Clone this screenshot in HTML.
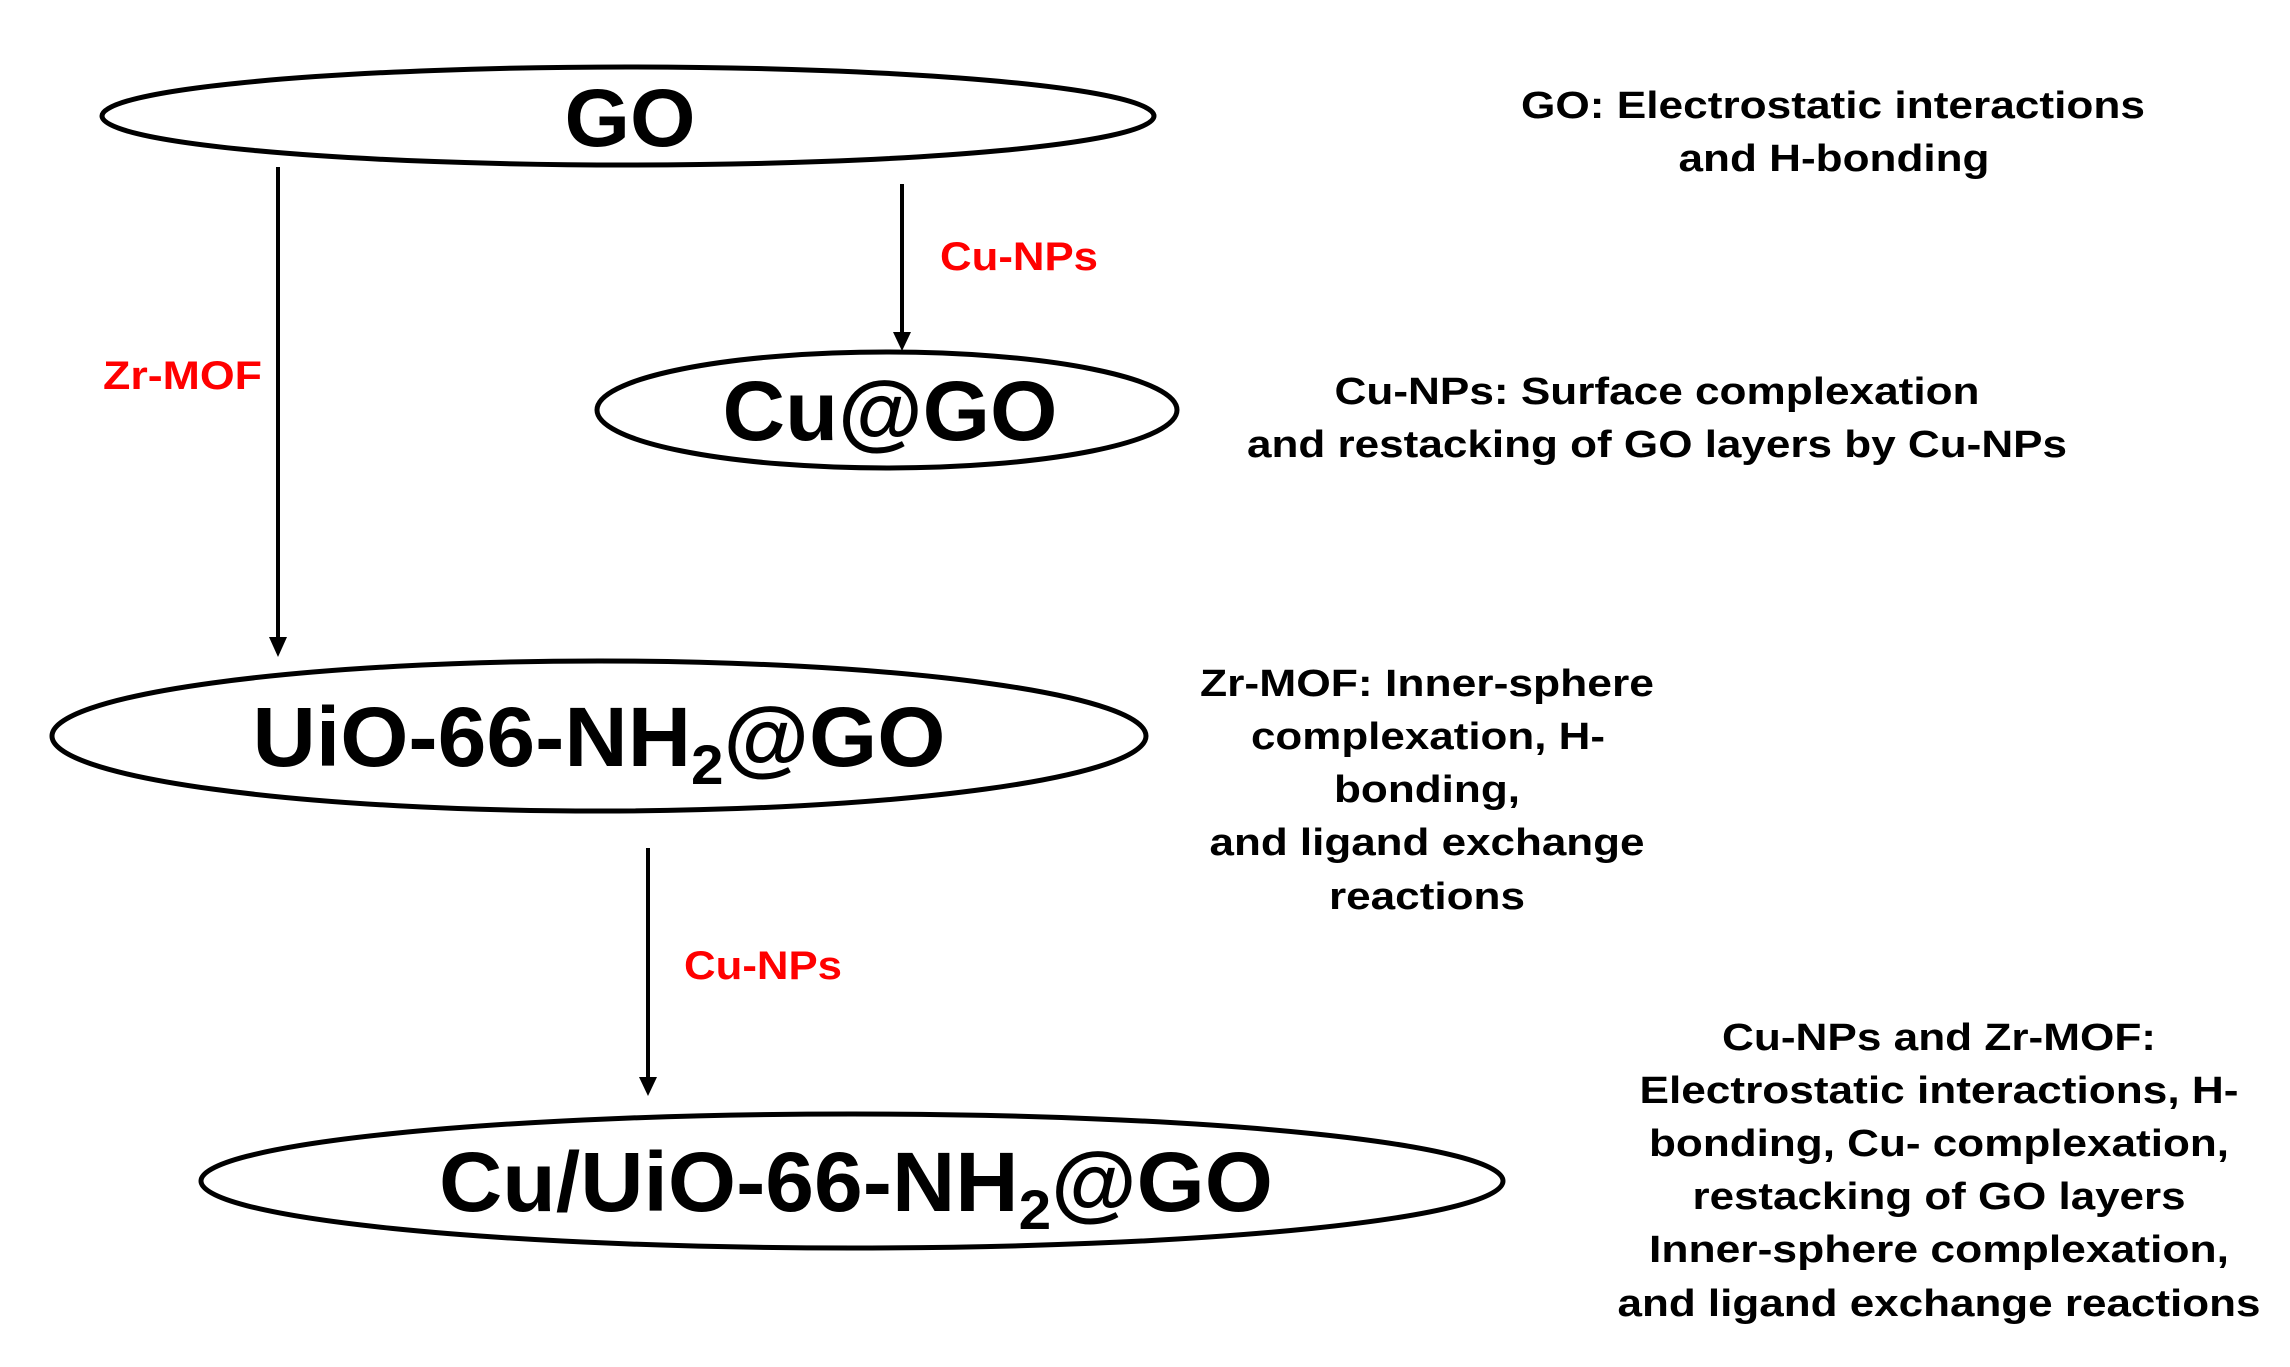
<!DOCTYPE html>
<html><head><meta charset="utf-8"><style>html,body{margin:0;padding:0;background:#fff}svg{display:block}</style></head>
<body>
<svg width="2290" height="1367" viewBox="0 0 2290 1367" xmlns="http://www.w3.org/2000/svg" font-family="Liberation Sans, Arial, sans-serif" font-weight="bold">
<defs><marker id="ah" markerWidth="12" markerHeight="12" refX="10" refY="6" orient="auto" markerUnits="userSpaceOnUse" viewBox="0 0 12 12"><path d="M0,0 L12,6 L0,12 z" fill="#000"/></marker></defs>
<g fill="none" stroke="#000" stroke-width="5">
<ellipse cx="628" cy="116" rx="526" ry="49"/>
<ellipse cx="887" cy="410" rx="290" ry="58"/>
<ellipse cx="599" cy="736" rx="547" ry="75"/>
<ellipse cx="852" cy="1181" rx="651" ry="67"/>
</g>
<g stroke="#000" stroke-width="4">
<line x1="278" y1="167" x2="278" y2="640"/>
<line x1="902" y1="184" x2="902" y2="335"/>
<line x1="648" y1="848" x2="648" y2="1080"/>
</g>
<g fill="#000">
<path d="M269,637 L287,637 L278,657 z"/>
<path d="M893,332 L911,332 L902,351 z"/>
<path d="M639,1077 L657,1077 L648,1096 z"/>
</g>
<g fill="#000" text-anchor="middle">
<text x="630" y="146" font-size="82" textLength="131" lengthAdjust="spacingAndGlyphs">GO</text>
<text x="890" y="440" font-size="84" textLength="335" lengthAdjust="spacingAndGlyphs">Cu@GO</text>
<text x="599" y="766" font-size="84" textLength="693" lengthAdjust="spacingAndGlyphs">UiO-66-NH<tspan font-size="56" dy="18">2</tspan><tspan dy="-18">@GO</tspan></text>
<text x="856" y="1211" font-size="84" textLength="834" lengthAdjust="spacingAndGlyphs">Cu/UiO-66-NH<tspan font-size="56" dy="18">2</tspan><tspan dy="-18">@GO</tspan></text>
</g>
<g fill="#ff0000" font-size="40">
<text x="103" y="389" textLength="159" lengthAdjust="spacingAndGlyphs">Zr-MOF</text>
<text x="940" y="270" textLength="158" lengthAdjust="spacingAndGlyphs">Cu-NPs</text>
<text x="684" y="979" textLength="158" lengthAdjust="spacingAndGlyphs">Cu-NPs</text>
</g>
<g fill="#000" font-size="38" text-anchor="middle">
<text x="1833" y="118" textLength="624" lengthAdjust="spacingAndGlyphs">GO: Electrostatic interactions</text>
<text x="1834" y="171" textLength="311" lengthAdjust="spacingAndGlyphs">and H-bonding</text>
<text x="1657" y="404" textLength="645" lengthAdjust="spacingAndGlyphs">Cu-NPs: Surface complexation</text>
<text x="1657" y="457" textLength="820" lengthAdjust="spacingAndGlyphs">and restacking of GO layers by Cu-NPs</text>
<text x="1427" y="696" textLength="454" lengthAdjust="spacingAndGlyphs">Zr-MOF: Inner-sphere</text>
<text x="1428" y="749" textLength="354" lengthAdjust="spacingAndGlyphs">complexation, H-</text>
<text x="1427" y="802" textLength="186" lengthAdjust="spacingAndGlyphs">bonding,</text>
<text x="1427" y="855" textLength="435" lengthAdjust="spacingAndGlyphs">and ligand exchange</text>
<text x="1427" y="909" textLength="196" lengthAdjust="spacingAndGlyphs">reactions</text>
<text x="1939" y="1050" textLength="434" lengthAdjust="spacingAndGlyphs">Cu-NPs and Zr-MOF:</text>
<text x="1939" y="1103" textLength="599" lengthAdjust="spacingAndGlyphs">Electrostatic interactions, H-</text>
<text x="1939" y="1156" textLength="580" lengthAdjust="spacingAndGlyphs">bonding, Cu- complexation,</text>
<text x="1939" y="1209" textLength="493" lengthAdjust="spacingAndGlyphs">restacking of GO layers</text>
<text x="1939" y="1262" textLength="580" lengthAdjust="spacingAndGlyphs">Inner-sphere complexation,</text>
<text x="1939" y="1316" textLength="643" lengthAdjust="spacingAndGlyphs">and ligand exchange reactions</text>
</g>
</svg>
</body></html>
